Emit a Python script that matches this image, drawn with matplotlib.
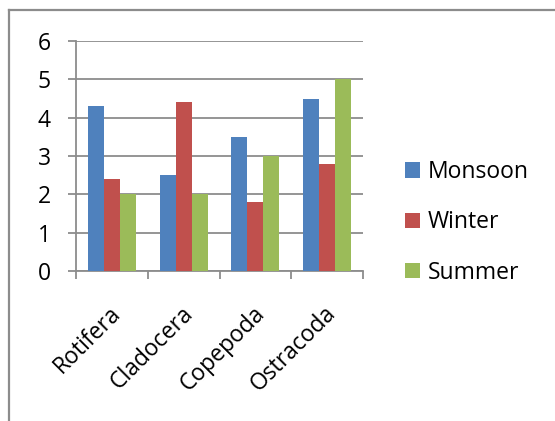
import matplotlib
matplotlib.use("Agg")
import matplotlib.pyplot as plt
import numpy as np
from matplotlib.lines import Line2D
from matplotlib.patches import Patch

categories = ["Rotifera", "Cladocera", "Copepoda", "Ostracoda"]
monsoon = [4.3, 2.5, 3.5, 4.5]
winter = [2.4, 4.4, 1.8, 2.8]
summer = [2.0, 2.0, 3.0, 5.0]
series_names = ["Monsoon", "Winter", "Summer"]
colors = ["#4F81BD", "#C0504D", "#9BBB59"]
yticks = [0, 1, 2, 3, 4, 5, 6]

plt.rcParams['font.family'] = ['Open Sans', 'DejaVu Sans']
FS = 16.5

fig = plt.figure(figsize=(5.55, 4.21), dpi=100)
ax = fig.add_axes([76/555, 1-271/421, (363-76)/555, (271-41)/421])

x = np.arange(len(categories))
w = 0.222
for i, (vals, c) in enumerate(zip([monsoon, winter, summer], colors)):
    ax.bar(x + (i-1)*w, vals, width=w, color=c, edgecolor='none', zorder=3)

ax.set_xlim(-0.5, len(categories)-0.5)
ax.set_ylim(0, 6)
ax.set_yticks(yticks)
ax.set_yticklabels([str(v) for v in yticks], fontsize=FS)
ax.yaxis.grid(True, color='#8c8c8c', linewidth=1.3, zorder=0)
ax.set_xticks(np.arange(-0.5, len(categories)), minor=False)
ax.set_xticklabels([])
ax.tick_params(axis='x', length=6, color='#8c8c8c', width=1.3, direction='out')
ax.tick_params(axis='y', length=6, color='#8c8c8c', width=1.3, direction='out', pad=12)
for s in ['top', 'right']:
    ax.spines[s].set_visible(False)
for s in ['left', 'bottom']:
    ax.spines[s].set_color('#8c8c8c')
    ax.spines[s].set_linewidth(1.3)

for xi, lab in zip(x, categories):
    ax.annotate(lab, xy=(xi, 0), xycoords=('data', 'axes fraction'),
                xytext=(-2, -22), textcoords='offset points',
                rotation=45, ha='right', va='top', rotation_mode='anchor', fontsize=FS)

handles = [Patch(facecolor=c, edgecolor='none') for c in colors]
fig.legend(handles, series_names, loc='upper left', bbox_to_anchor=(405/555, 1-160/421),
           frameon=False, fontsize=FS, handlelength=0.65, handleheight=0.65,
           handletextpad=0.35, labelspacing=1.15, borderaxespad=0, borderpad=0)

fig.add_artist(Line2D([9/555, 1], [1-10/421, 1-10/421], color='#8c8c8c', linewidth=1.6))
fig.add_artist(Line2D([9/555, 9/555], [0, 1-10/421], color='#8c8c8c', linewidth=1.6))

fig.savefig("out.png", dpi=100)
